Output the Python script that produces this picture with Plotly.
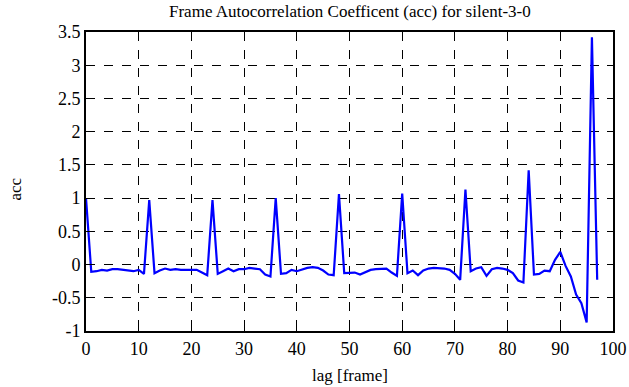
import plotly.graph_objects as go

lags = list(range(0, 98))
acc = [
    1.00, -0.11, -0.10, -0.08, -0.09, -0.07, -0.07, -0.08, -0.10, -0.10,
    -0.08, -0.14, 0.97, -0.13, -0.09, -0.06, -0.08, -0.07, -0.08, -0.08,
    -0.09, -0.08, -0.12, -0.16, 0.97, -0.14, -0.10, -0.06, -0.10, -0.07,
    -0.07, -0.05, -0.06, -0.07, -0.15, -0.18, 1.00, -0.14, -0.13, -0.08,
    -0.10, -0.07, -0.05, -0.04, -0.05, -0.09, -0.15, -0.16, 1.06, -0.13,
    -0.13, -0.12, -0.15, -0.11, -0.08, -0.07, -0.06, -0.06, -0.12, -0.17,
    1.07, -0.13, -0.09, -0.16, -0.09, -0.06, -0.05, -0.05, -0.06, -0.08,
    -0.14, -0.23, 1.13, -0.10, -0.06, -0.04, -0.17, -0.07, -0.05, -0.06,
    -0.08, -0.13, -0.24, -0.27, 1.42, -0.15, -0.14, -0.09, -0.10, 0.07,
    0.19, -0.02, -0.18, -0.45, -0.58, -0.87, 3.42, -0.23,
]

x_ticks = [0, 10, 20, 30, 40, 50, 60, 70, 80, 90, 100]
x_ticktext = ["0", "10", "20", "30", "40", "50", "60", "70", "80", "90", "100"]
y_ticks = [-1, -0.5, 0, 0.5, 1, 1.5, 2, 2.5, 3, 3.5]
y_ticktext = ["-1", "-0.5", "0", "0.5", "1", "1.5", "2", "2.5", "3", "3.5"]

title_text = "Frame Autocorrelation Coefficent (acc) for silent-3-0"
x_label = "lag [frame]"
y_label = "acc"

FONT = "Liberation Serif"

fig = go.Figure()
fig.add_trace(go.Scatter(
    x=lags, y=acc, mode="lines",
    line=dict(color="#0000ff", width=2.2),
    showlegend=False, hoverinfo="skip",
))

axis_common = dict(
    showline=True, linecolor="black", linewidth=2, mirror="ticks",
    ticks="inside", ticklen=6, tickwidth=1, tickcolor="black",
    showgrid=True, gridcolor="black", gridwidth=1, griddash="dash",
    zeroline=False, automargin=False,
    tickfont=dict(family=FONT, size=18, color="black"),
)

fig.update_xaxes(range=[0, 100], tickvals=x_ticks, ticktext=x_ticktext, **axis_common)
fig.update_yaxes(range=[-1, 3.5], tickvals=y_ticks, ticktext=y_ticktext, **axis_common)

fig.update_layout(
    width=629, height=387,
    margin=dict(l=86, r=16, t=32, b=56, autoexpand=False),
    plot_bgcolor="white", paper_bgcolor="white",
    font=dict(family=FONT, size=17, color="black"),
    hovermode=False,
    annotations=[
        dict(text=title_text, xref="paper", yref="paper", x=0.5, y=1,
             yshift=21, xanchor="center", yanchor="middle", showarrow=False,
             font=dict(family=FONT, size=17, color="black")),
        dict(text=x_label, xref="paper", yref="paper", x=0.5, y=0,
             yshift=-44, xanchor="center", yanchor="middle", showarrow=False,
             font=dict(family=FONT, size=17, color="black")),
        dict(text=y_label, xref="paper", yref="paper", x=0, y=0.5,
             xshift=-71, yshift=-8, xanchor="center", yanchor="middle",
             textangle=-90, showarrow=False,
             font=dict(family=FONT, size=17, color="black")),
    ],
)

fig.write_html(
    "out.html",
    config={"displayModeBar": False, "staticPlot": True},
    post_script="document.body.style.margin='0px';document.body.style.overflow='hidden';",
)
